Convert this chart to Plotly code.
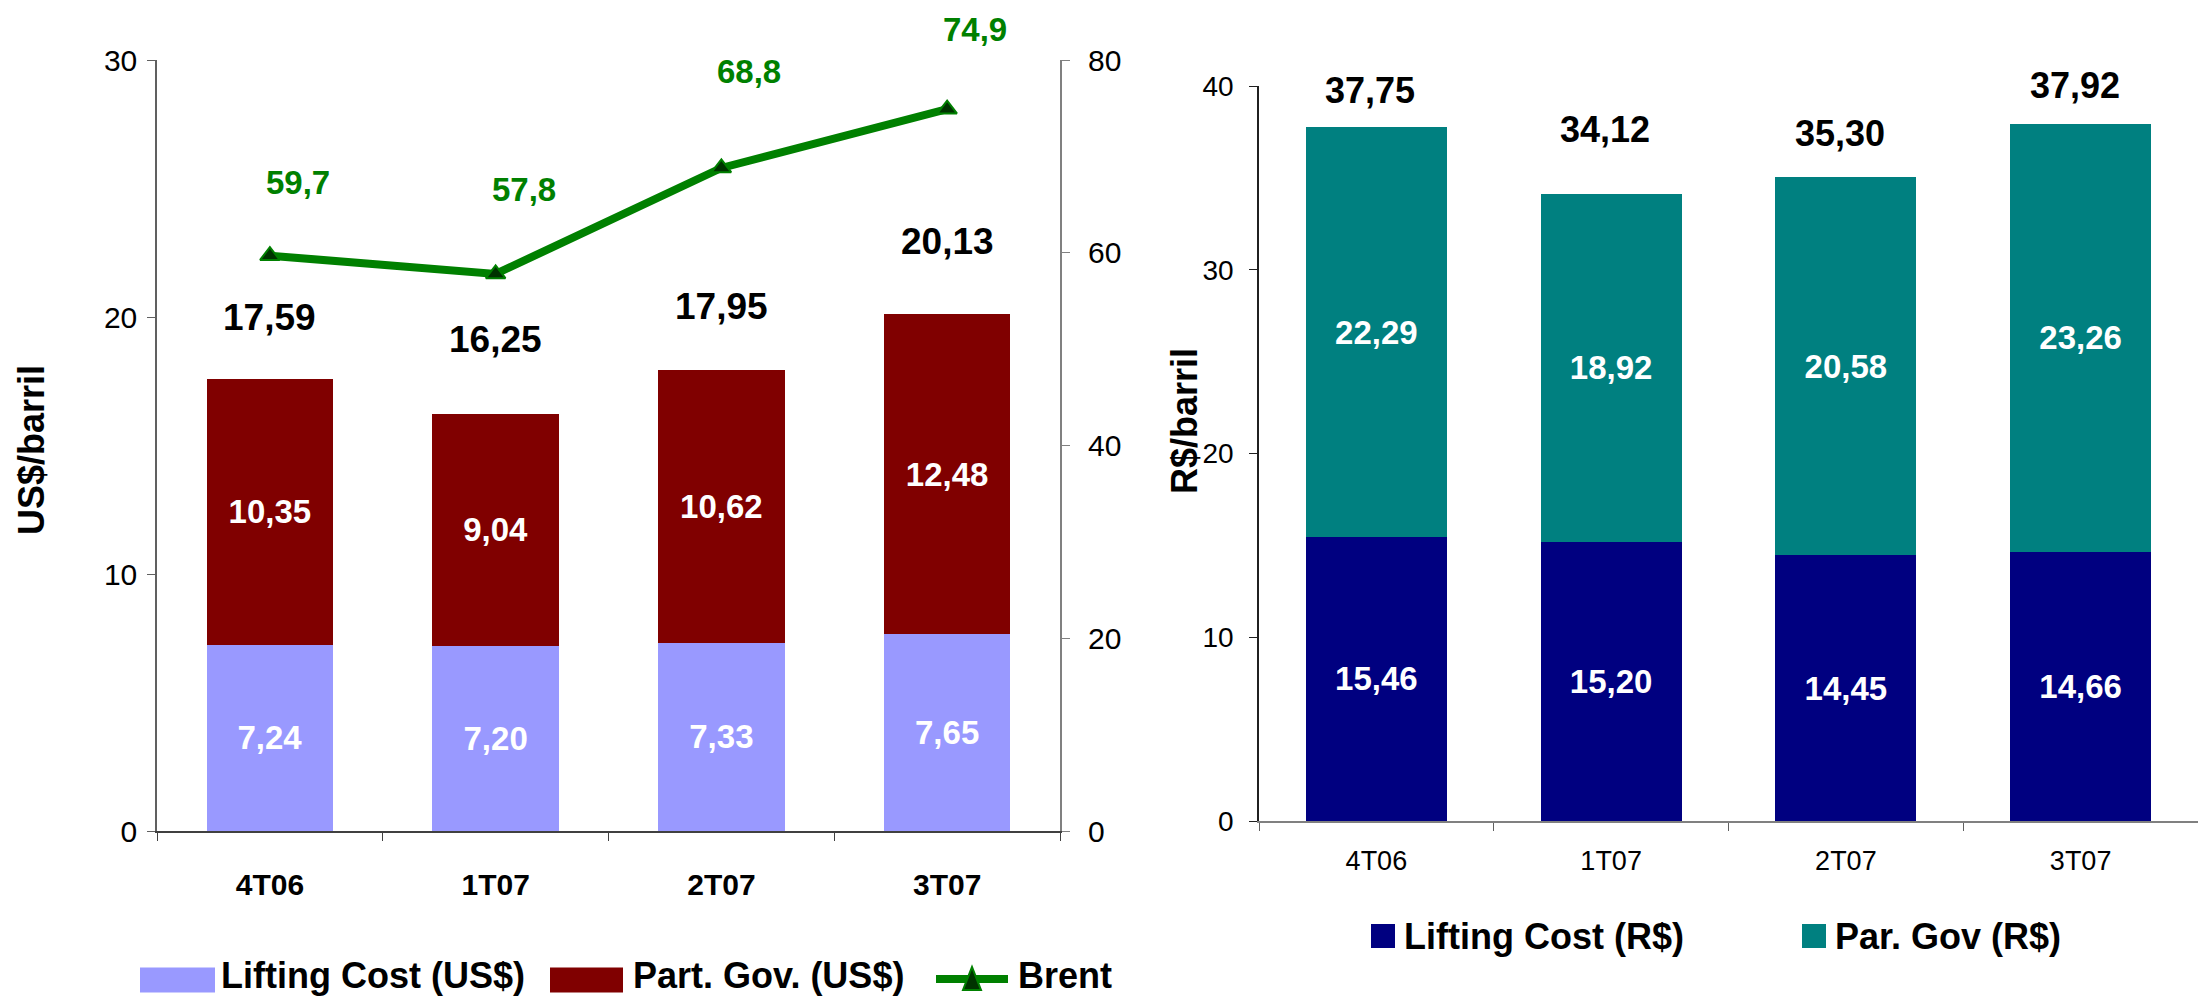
import plotly.graph_objects as go

# ---- data ---------------------------------------------------------------
quarters = ["4T06", "1T07", "2T07", "3T07"]

lifting_usd = [7.24, 7.20, 7.33, 7.65]
gov_usd = [10.35, 9.04, 10.62, 12.48]
total_usd = [17.59, 16.25, 17.95, 20.13]
brent = [59.7, 57.8, 68.8, 74.9]

lifting_brl = [15.46, 15.20, 14.45, 14.66]
gov_brl = [22.29, 18.92, 20.58, 23.26]
total_brl = [37.75, 34.12, 35.30, 37.92]

names_usd = ["Lifting Cost (US$)", "Part. Gov. (US$)", "Brent"]
names_brl = ["Lifting Cost (R$)", "Par. Gov (R$)"]

# ---- styling ------------------------------------------------------------
W, H = 2198, 999
FONT = "Liberation Sans, Arial, sans-serif"
C_LIFT_USD = "#9999FF"
C_GOV_USD = "#800000"
C_BRENT = "#008000"
C_BRENT_MARK = "#003300"
C_LIFT_BRL = "#000080"
C_GOV_BRL = "#008080"

# vertical offsets (px) of the value labels above their marks
shift_total_usd = [61, 74, 63, 72]
shift_brent = [73, 84, 96, 80]
shift_total_brl = [37, 65, 39, 39]


def px(x):
    return x / W


def py(y):
    return 1 - y / H


def fmt(v, d):
    return f"{v:.{d}f}".replace(".", ",")


fig = go.Figure()

inner_font = dict(family=FONT, size=33, color="white", weight="bold")
bar_common = dict(textposition="inside", insidetextanchor="middle",
                  textangle=0, constraintext="none", textfont=inner_font,
                  texttemplate="%{y:.2f}", marker_line_width=0)

# left panel: US$/barril stacked bars + Brent line
fig.add_trace(go.Bar(x=quarters, y=lifting_usd, name=names_usd[0],
                     marker_color=C_LIFT_USD, width=0.56,
                     xaxis="x", yaxis="y", **bar_common))
fig.add_trace(go.Bar(x=quarters, y=gov_usd, name=names_usd[1],
                     marker_color=C_GOV_USD, width=0.56,
                     xaxis="x", yaxis="y", **bar_common))
fig.add_trace(go.Scatter(
    x=quarters, y=brent, name=names_usd[2], mode="lines+markers",
    line=dict(color=C_BRENT, width=8),
    marker=dict(symbol="triangle-up", size=17, color=C_BRENT_MARK,
                line=dict(color=C_BRENT, width=2)),
    xaxis="x", yaxis="y2",
))

# right panel: R$/barril stacked bars
fig.add_trace(go.Bar(x=quarters, y=lifting_brl, name=names_brl[0],
                     marker_color=C_LIFT_BRL, width=0.6,
                     xaxis="x2", yaxis="y3", **bar_common))
fig.add_trace(go.Bar(x=quarters, y=gov_brl, name=names_brl[1],
                     marker_color=C_GOV_BRL, width=0.6,
                     xaxis="x2", yaxis="y3", **bar_common))

annotations = []
for q, tot, s in zip(quarters, total_usd, shift_total_usd):
    annotations.append(dict(
        x=q, y=tot, xref="x", yref="y", text=fmt(tot, 2), showarrow=False,
        yanchor="middle", yshift=s,
        font=dict(family=FONT, size=37, color="black", weight="bold")))
for q, b, s in zip(quarters, brent, shift_brent):
    annotations.append(dict(
        x=q, y=b, xref="x", yref="y2", text=fmt(b, 1), showarrow=False,
        yanchor="middle", yshift=s, xshift=28,
        font=dict(family=FONT, size=33, color=C_BRENT, weight="bold")))
for q, tot, s in zip(quarters, total_brl, shift_total_brl):
    annotations.append(dict(
        x=q, y=tot, xref="x2", yref="y3", text=fmt(tot, 2), showarrow=False,
        yanchor="middle", yshift=s, xshift=-6,
        font=dict(family=FONT, size=36, color="black", weight="bold")))

# axis titles
annotations.append(dict(
    x=px(31), y=py(450), xref="paper", yref="paper", text="US$/barril",
    textangle=-90, showarrow=False, xanchor="center", yanchor="middle",
    font=dict(family=FONT, size=36, color="black", weight="bold")))
annotations.append(dict(
    x=px(1185), y=py(421), xref="paper", yref="paper", text="R$/barril",
    textangle=-90, showarrow=False, xanchor="center", yanchor="middle",
    font=dict(family=FONT, size=36, color="black", weight="bold")))

# legends drawn as swatches + labels
legend_font = dict(family=FONT, size=36, color="black", weight="bold")
shapes = []


def legend_label(tx, yc, label):
    if yc > 960:
        # bottom row: keep the text box inside the page
        annotations.append(dict(x=px(tx), y=py(998), xref="paper",
                                yref="paper", text=label, showarrow=False,
                                xanchor="left", yanchor="bottom",
                                font=legend_font))
    else:
        annotations.append(dict(x=px(tx), y=py(yc), xref="paper",
                                yref="paper", text=label, showarrow=False,
                                xanchor="left", yanchor="middle",
                                font=legend_font))


def legend_box(x0, x1, yc, h, color, label, tx):
    shapes.append(dict(type="rect", xref="paper", yref="paper",
                       x0=px(x0), x1=px(x1), y0=py(yc + h / 2), y1=py(yc - h / 2),
                       fillcolor=color, line=dict(width=0)))
    legend_label(tx, yc, label)


legend_box(140, 215, 980, 25, C_LIFT_USD, names_usd[0], 219)
legend_box(550, 623, 980, 25, C_GOV_USD, names_usd[1], 631)
# Brent: line with triangle marker
shapes.append(dict(type="line", xref="paper", yref="paper",
                   x0=px(936), x1=px(1008), y0=py(979), y1=py(979),
                   line=dict(color=C_BRENT, width=8)))
shapes.append(dict(type="path", xref="paper", yref="paper",
                   path=(f"M {px(963)},{py(990)} L {px(981)},{py(990)} "
                         f"L {px(972)},{py(967)} Z"),
                   fillcolor=C_BRENT_MARK, line=dict(color=C_BRENT, width=2)))
legend_label(1016, 980, names_usd[2])

legend_box(1371, 1395, 936, 24, C_LIFT_BRL, names_brl[0], 1402)
legend_box(1802, 1826, 936, 24, C_GOV_BRL, names_brl[1], 1833)

tick_font = dict(family=FONT, size=30, color="black")
cat_font_bold = dict(family=FONT, size=30, color="black", weight="bold")

fig.update_layout(
    width=W, height=H,
    margin=dict(l=0, r=0, t=0, b=0, pad=0, autoexpand=False),
    paper_bgcolor="white", plot_bgcolor="white",
    barmode="stack", showlegend=False, separators=",.",
    xaxis=dict(domain=[px(157), px(1060)], anchor="y", type="category",
               range=[-0.5, 3.5], showline=True, linecolor="#404040",
               linewidth=1.5, ticks="outside", tickson="boundaries",
               ticklen=8, tickcolor="#404040", tickfont=cat_font_bold,
               ticklabelstandoff=26, showgrid=False, automargin=False),
    yaxis=dict(domain=[py(831), py(60)], anchor="x", range=[0, 30],
               tickvals=[0, 10, 20, 30], showline=True, linecolor="#606060",
               linewidth=1.5, ticks="outside", ticklen=8, tickcolor="#606060",
               tickfont=tick_font, showgrid=False, zeroline=False,
               ticklabelstandoff=4, automargin=False),
    yaxis2=dict(overlaying="y", anchor="x", side="right", range=[0, 80],
                tickvals=[0, 20, 40, 60, 80], showline=True,
                linecolor="#808080", linewidth=2, ticks="outside", ticklen=8,
                tickcolor="#808080", tickfont=tick_font, showgrid=False,
                zeroline=False, ticklabelstandoff=12, automargin=False),
    xaxis2=dict(domain=[px(1259), 1.0], anchor="y3", type="category",
                range=[-0.5, 3.5], showline=True, linecolor="#808080",
                linewidth=1.5, ticks="outside", tickson="boundaries",
                ticklen=8, tickcolor="#606060",
                tickfont=dict(family=FONT, size=27, color="black"),
                ticklabelstandoff=15, showgrid=False, automargin=False),
    yaxis3=dict(domain=[py(821), py(86)], anchor="x2", range=[0, 40],
                tickvals=[0, 10, 20, 30, 40], showline=True,
                linecolor="#202020", linewidth=1.5, ticks="outside",
                ticklen=8, tickcolor="#202020",
                tickfont=dict(family=FONT, size=28, color="black"),
                showgrid=False, zeroline=False, ticklabelstandoff=10,
                automargin=False),
    annotations=annotations,
    shapes=shapes,
)

fig.write_html("out.html")
